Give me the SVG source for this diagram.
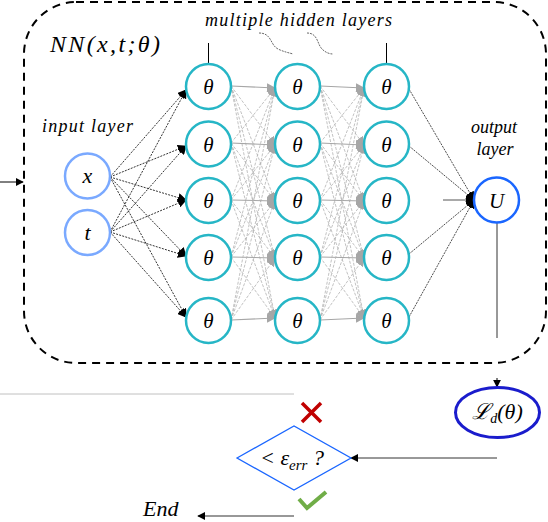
<svg xmlns="http://www.w3.org/2000/svg" width="548" height="522" viewBox="0 0 548 522">
<style>
.lbl{font-family:"Liberation Serif","DejaVu Serif",serif;font-style:italic;fill:#000}
.hid{fill:#fff;stroke:#26b6c6;stroke-width:2.5}
.inp{fill:#fff;stroke:#7aa9ff;stroke-width:2.5}
.inl{stroke:#000;stroke-width:0.8;stroke-dasharray:2 1.2;fill:none}
.hs{stroke:#a6a6a6;stroke-width:1.1;fill:none}
.hd{stroke:#b3b3b3;stroke-width:0.8;stroke-dasharray:3 1.5;fill:none}
.outl{stroke:#000;stroke-width:0.7;stroke-dasharray:2 1;fill:none}
</style>
<defs>
<marker id="ab" viewBox="0 0 10 10" refX="9" refY="5" markerWidth="9" markerHeight="9" markerUnits="userSpaceOnUse" orient="auto"><path d="M0,0 L10,5 L0,10 z" fill="#000"/></marker>
<marker id="ag" viewBox="0 0 10 10" refX="9" refY="5" markerWidth="9" markerHeight="9" markerUnits="userSpaceOnUse" orient="auto"><path d="M0,0 L10,5 L0,10 z" fill="#a6a6a6"/></marker>
<marker id="as" viewBox="0 0 10 10" refX="9" refY="5" markerWidth="8" markerHeight="8" markerUnits="userSpaceOnUse" orient="auto"><path d="M0,0 L10,5 L0,10 z" fill="#000"/></marker>
</defs>

<!-- dashed NN box -->
<rect x="24" y="2" width="522" height="361" rx="52" ry="52" fill="none" stroke="#000" stroke-width="2" stroke-dasharray="8 6"/>

<g id="connectors">
  <!-- incoming arrow -->
  <line x1="0" y1="182" x2="23" y2="182" stroke="#000" stroke-width="1" marker-end="url(#as)"/>
  <!-- input to hidden1 -->
  <line class="inl" x1="110" y1="177" x2="186" y2="90" marker-end="url(#ab)"/>
  <line class="inl" x1="110" y1="177" x2="186" y2="146" marker-end="url(#ab)"/>
  <line class="inl" x1="110" y1="177" x2="186" y2="200" marker-end="url(#ab)"/>
  <line class="inl" x1="110" y1="177" x2="186" y2="256" marker-end="url(#ab)"/>
  <line class="inl" x1="110" y1="177" x2="186" y2="317" marker-end="url(#ab)"/>
  <line class="inl" x1="110" y1="232" x2="186" y2="90" marker-end="url(#ab)"/>
  <line class="inl" x1="110" y1="232" x2="186" y2="146" marker-end="url(#ab)"/>
  <line class="inl" x1="110" y1="232" x2="186" y2="200" marker-end="url(#ab)"/>
  <line class="inl" x1="110" y1="232" x2="186" y2="256" marker-end="url(#ab)"/>
  <line class="inl" x1="110" y1="232" x2="186" y2="317" marker-end="url(#ab)"/>
  <!-- hidden1 to hidden2 -->
  <g>
    <line class="hs" x1="231" y1="86" x2="275" y2="88" marker-end="url(#ag)"/>
    <line class="hd" x1="231" y1="86" x2="275" y2="145" marker-end="url(#ag)"/>
    <line class="hd" x1="231" y1="86" x2="275" y2="201" marker-end="url(#ag)"/>
    <line class="hd" x1="231" y1="86" x2="275" y2="258" marker-end="url(#ag)"/>
    <line class="hd" x1="231" y1="86" x2="275" y2="318" marker-end="url(#ag)"/>
    <line class="hd" x1="231" y1="143" x2="275" y2="88" marker-end="url(#ag)"/>
    <line class="hs" x1="231" y1="143" x2="275" y2="145" marker-end="url(#ag)"/>
    <line class="hd" x1="231" y1="143" x2="275" y2="201" marker-end="url(#ag)"/>
    <line class="hd" x1="231" y1="143" x2="275" y2="258" marker-end="url(#ag)"/>
    <line class="hd" x1="231" y1="143" x2="275" y2="318" marker-end="url(#ag)"/>
    <line class="hd" x1="231" y1="200" x2="275" y2="88" marker-end="url(#ag)"/>
    <line class="hd" x1="231" y1="200" x2="275" y2="145" marker-end="url(#ag)"/>
    <line class="hs" x1="231" y1="200" x2="275" y2="201" marker-end="url(#ag)"/>
    <line class="hd" x1="231" y1="200" x2="275" y2="258" marker-end="url(#ag)"/>
    <line class="hd" x1="231" y1="200" x2="275" y2="318" marker-end="url(#ag)"/>
    <line class="hd" x1="231" y1="257" x2="275" y2="88" marker-end="url(#ag)"/>
    <line class="hd" x1="231" y1="257" x2="275" y2="145" marker-end="url(#ag)"/>
    <line class="hd" x1="231" y1="257" x2="275" y2="201" marker-end="url(#ag)"/>
    <line class="hs" x1="231" y1="257" x2="275" y2="258" marker-end="url(#ag)"/>
    <line class="hd" x1="231" y1="257" x2="275" y2="318" marker-end="url(#ag)"/>
    <line class="hd" x1="231" y1="320" x2="275" y2="88" marker-end="url(#ag)"/>
    <line class="hd" x1="231" y1="320" x2="275" y2="145" marker-end="url(#ag)"/>
    <line class="hd" x1="231" y1="320" x2="275" y2="201" marker-end="url(#ag)"/>
    <line class="hd" x1="231" y1="320" x2="275" y2="258" marker-end="url(#ag)"/>
    <line class="hs" x1="231" y1="320" x2="275" y2="318" marker-end="url(#ag)"/>
  </g>
  <!-- hidden2 to hidden3 -->
  <g>
    <line class="hs" x1="320" y1="86" x2="364" y2="88" marker-end="url(#ag)"/>
    <line class="hd" x1="320" y1="86" x2="364" y2="145" marker-end="url(#ag)"/>
    <line class="hd" x1="320" y1="86" x2="364" y2="201" marker-end="url(#ag)"/>
    <line class="hd" x1="320" y1="86" x2="364" y2="258" marker-end="url(#ag)"/>
    <line class="hd" x1="320" y1="86" x2="364" y2="318" marker-end="url(#ag)"/>
    <line class="hd" x1="320" y1="143" x2="364" y2="88" marker-end="url(#ag)"/>
    <line class="hs" x1="320" y1="143" x2="364" y2="145" marker-end="url(#ag)"/>
    <line class="hd" x1="320" y1="143" x2="364" y2="201" marker-end="url(#ag)"/>
    <line class="hd" x1="320" y1="143" x2="364" y2="258" marker-end="url(#ag)"/>
    <line class="hd" x1="320" y1="143" x2="364" y2="318" marker-end="url(#ag)"/>
    <line class="hd" x1="320" y1="200" x2="364" y2="88" marker-end="url(#ag)"/>
    <line class="hd" x1="320" y1="200" x2="364" y2="145" marker-end="url(#ag)"/>
    <line class="hs" x1="320" y1="200" x2="364" y2="201" marker-end="url(#ag)"/>
    <line class="hd" x1="320" y1="200" x2="364" y2="258" marker-end="url(#ag)"/>
    <line class="hd" x1="320" y1="200" x2="364" y2="318" marker-end="url(#ag)"/>
    <line class="hd" x1="320" y1="257" x2="364" y2="88" marker-end="url(#ag)"/>
    <line class="hd" x1="320" y1="257" x2="364" y2="145" marker-end="url(#ag)"/>
    <line class="hd" x1="320" y1="257" x2="364" y2="201" marker-end="url(#ag)"/>
    <line class="hs" x1="320" y1="257" x2="364" y2="258" marker-end="url(#ag)"/>
    <line class="hd" x1="320" y1="257" x2="364" y2="318" marker-end="url(#ag)"/>
    <line class="hd" x1="320" y1="320" x2="364" y2="88" marker-end="url(#ag)"/>
    <line class="hd" x1="320" y1="320" x2="364" y2="145" marker-end="url(#ag)"/>
    <line class="hd" x1="320" y1="320" x2="364" y2="201" marker-end="url(#ag)"/>
    <line class="hd" x1="320" y1="320" x2="364" y2="258" marker-end="url(#ag)"/>
    <line class="hs" x1="320" y1="320" x2="364" y2="318" marker-end="url(#ag)"/>
  </g>
  <!-- hidden3 to output -->
  <line class="outl" x1="409" y1="89" x2="474" y2="200" marker-end="url(#ab)"/>
  <line class="outl" x1="409" y1="146" x2="474" y2="200" marker-end="url(#ab)"/>
  <line stroke="#555" stroke-width="1" x1="443" y1="200" x2="474" y2="200" marker-end="url(#ab)"/>
  <line class="outl" x1="409" y1="254" x2="474" y2="200" marker-end="url(#ab)"/>
  <line class="outl" x1="409" y1="317" x2="474" y2="200" marker-end="url(#ab)"/>
  <!-- tick lines above hidden layers -->
  <line x1="208.5" y1="43" x2="208.5" y2="63" stroke="#000" stroke-width="1"/>
  <line x1="386.5" y1="43" x2="386.5" y2="63" stroke="#000" stroke-width="1"/>
  <!-- squiggle leaders -->
  <path d="M259,33 C272,33 270,45 278,49 C284,52 290,53 293,54" fill="none" stroke="#000" stroke-width="0.6" stroke-dasharray="2 1"/>
  <path d="M307,33 C318,33 317,44 322,49 C326,53 330,54 333,54" fill="none" stroke="#000" stroke-width="0.6" stroke-dasharray="2 1"/>
  <!-- output down to loss -->
  <line x1="497" y1="223" x2="497" y2="338" stroke="#333" stroke-width="1"/>
  <line x1="497" y1="378" x2="497" y2="387" stroke="#000" stroke-width="1" marker-end="url(#as)"/>
  <!-- loss to decision -->
  <line x1="497" y1="458" x2="351" y2="458" stroke="#333" stroke-width="1" marker-end="url(#as)"/>
  <!-- decision to end -->
  <line x1="294" y1="516" x2="198" y2="516" stroke="#333" stroke-width="1.2" marker-end="url(#as)"/>
  <!-- gray separator -->
  <line x1="0" y1="394" x2="294" y2="394" stroke="#c0c0c0" stroke-width="1"/>
</g>

<!-- labels -->
<text class="lbl" x="50" y="52" font-size="24" textLength="110" lengthAdjust="spacing">NN(x,t;θ)</text>
<text class="lbl" x="205" y="26" font-size="18" textLength="187" lengthAdjust="spacing">multiple hidden layers</text>
<text class="lbl" x="42" y="132" font-size="18" textLength="91" lengthAdjust="spacing">input layer</text>
<text class="lbl" x="494" y="133" font-size="18" text-anchor="middle">output</text>
<text class="lbl" x="495" y="155" font-size="18" text-anchor="middle">layer</text>

<g id="in-x"><circle class="inp" cx="87.5" cy="176" r="22.5"/><text class="lbl" x="87.5" y="183" font-size="22" text-anchor="middle">x</text></g>
<g id="in-t"><circle class="inp" cx="87.5" cy="232.5" r="22.5"/><text class="lbl" x="87.5" y="240" font-size="22" text-anchor="middle">t</text></g>

<g id="h1-1"><circle class="hid" cx="208.5" cy="86.5" r="22.5"/><text class="lbl" x="208.5" y="94" font-size="21" text-anchor="middle">θ</text></g>
<g id="h1-2"><circle class="hid" cx="208.5" cy="144" r="22.5"/><text class="lbl" x="208.5" y="151.5" font-size="21" text-anchor="middle">θ</text></g>
<g id="h1-3"><circle class="hid" cx="208.5" cy="200.5" r="22.5"/><text class="lbl" x="208.5" y="208" font-size="21" text-anchor="middle">θ</text></g>
<g id="h1-4"><circle class="hid" cx="208.5" cy="257.5" r="22.5"/><text class="lbl" x="208.5" y="265" font-size="21" text-anchor="middle">θ</text></g>
<g id="h1-5"><circle class="hid" cx="208.5" cy="320.5" r="22.5"/><text class="lbl" x="208.5" y="328" font-size="21" text-anchor="middle">θ</text></g>

<g id="h2-1"><circle class="hid" cx="297.5" cy="86.5" r="22.5"/><text class="lbl" x="297.5" y="94" font-size="21" text-anchor="middle">θ</text></g>
<g id="h2-2"><circle class="hid" cx="297.5" cy="144" r="22.5"/><text class="lbl" x="297.5" y="151.5" font-size="21" text-anchor="middle">θ</text></g>
<g id="h2-3"><circle class="hid" cx="297.5" cy="200.5" r="22.5"/><text class="lbl" x="297.5" y="208" font-size="21" text-anchor="middle">θ</text></g>
<g id="h2-4"><circle class="hid" cx="297.5" cy="257.5" r="22.5"/><text class="lbl" x="297.5" y="265" font-size="21" text-anchor="middle">θ</text></g>
<g id="h2-5"><circle class="hid" cx="297.5" cy="320.5" r="22.5"/><text class="lbl" x="297.5" y="328" font-size="21" text-anchor="middle">θ</text></g>

<g id="h3-1"><circle class="hid" cx="386.5" cy="86.5" r="22.5"/><text class="lbl" x="386.5" y="94" font-size="21" text-anchor="middle">θ</text></g>
<g id="h3-2"><circle class="hid" cx="386.5" cy="144" r="22.5"/><text class="lbl" x="386.5" y="151.5" font-size="21" text-anchor="middle">θ</text></g>
<g id="h3-3"><circle class="hid" cx="386.5" cy="200.5" r="22.5"/><text class="lbl" x="386.5" y="208" font-size="21" text-anchor="middle">θ</text></g>
<g id="h3-4"><circle class="hid" cx="386.5" cy="257.5" r="22.5"/><text class="lbl" x="386.5" y="265" font-size="21" text-anchor="middle">θ</text></g>
<g id="h3-5"><circle class="hid" cx="386.5" cy="320.5" r="22.5"/><text class="lbl" x="386.5" y="328" font-size="21" text-anchor="middle">θ</text></g>

<g id="out-U"><circle cx="496.5" cy="200" r="22.5" fill="#fff" stroke="#1a66ff" stroke-width="2.5"/><text class="lbl" x="496.5" y="207.5" font-size="21" text-anchor="middle">U</text></g>

<g id="loss"><ellipse cx="497.5" cy="412.5" rx="42" ry="25" fill="#fff" stroke="#1a1ccc" stroke-width="3"/><text class="lbl" x="497.5" y="419" font-size="22" text-anchor="middle">ℒ<tspan font-size="14" dy="4">d</tspan><tspan dy="-4">(θ)</tspan></text></g>

<g id="decision"><polygon points="237,458 294,426 351,458 294,490" fill="#fff" stroke="#1a66ff" stroke-width="1.3"/><text class="lbl" x="292" y="465" font-size="22" text-anchor="middle">&lt; ε<tspan font-size="15" dy="5">err</tspan><tspan dy="-5"> ?</tspan></text></g>

<g id="cross"><path d="M302,403 L321,422 M321,403 L302,422" stroke="#c00000" stroke-width="3.5" fill="none"/></g>
<g id="check"><path d="M299,499 L307,508 L326,492" stroke="#70ad47" stroke-width="4" fill="none"/></g>

<g id="end"><text class="lbl" x="143" y="516" font-size="22">End</text></g>
</svg>
